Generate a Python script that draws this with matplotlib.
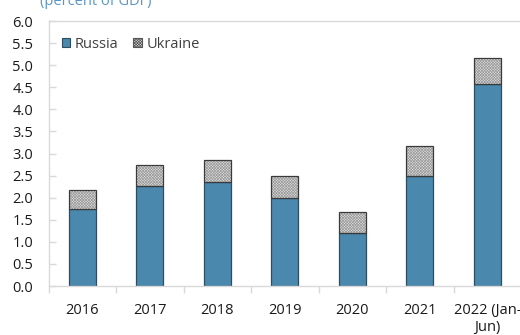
import numpy as np
import matplotlib
matplotlib.use("Agg")
import matplotlib.pyplot as plt
from matplotlib.patches import Patch

plt.rcParams['font.family'] = ['Open Sans', 'DejaVu Sans']
plt.rcParams['hatch.linewidth'] = 0.5

years = ["2016", "2017", "2018", "2019", "2020", "2021", "2022 (Jan-\nJun)"]
russia = [1.74, 2.27, 2.36, 1.99, 1.20, 2.48, 4.58]
ukraine = [0.43, 0.47, 0.50, 0.51, 0.48, 0.70, 0.59]
y_ticks = [0.0, 0.5, 1.0, 1.5, 2.0, 2.5, 3.0, 3.5, 4.0, 4.5, 5.0, 5.5, 6.0]

fig = plt.figure(figsize=(5.2, 3.35), dpi=100)
ax = fig.add_axes([48.5 / 520, 1 - 286 / 335, 1 - 48.5 / 520 + 0.002, (286 - 21) / 335])

x = np.arange(len(years))
w = 0.4
blue, blue_edge = '#4a88ae', '#2e4d5e'
hatch_face, hatch_line, hatch_edge = '#e2e2e2', '#9a9a9a', '#3a3a3a'
pattern = 'xxxxxxxxxxxx'

ax.bar(x, russia, w, color=blue, edgecolor=blue_edge, linewidth=0.9)
# fine grey pattern, then a dark outline on top
ax.bar(x, ukraine, w, bottom=russia, color=hatch_face, edgecolor=hatch_line,
       linewidth=0, hatch=pattern)
ax.bar(x, ukraine, w, bottom=russia, facecolor='none', edgecolor=hatch_edge, linewidth=0.9)

ax.set_xlim(-0.5, len(years) - 0.5)
ax.set_ylim(0, 6)
ax.set_yticks(y_ticks)
ax.set_yticklabels([f"{v:.1f}" for v in y_ticks])
ax.set_xticks(x)
ax.set_xticklabels(years, linespacing=1.2)
ax.set_xticks(np.arange(len(years) + 1) - 0.5, minor=True)

grey = '#d9d9d9'
for s in ['left', 'bottom', 'top', 'right']:
    ax.spines[s].set_color(grey)
    ax.spines[s].set_linewidth(1.0)

ax.tick_params(axis='x', which='major', length=0, pad=12, labelsize=10.5, labelcolor='#1a1a1a')
ax.tick_params(axis='x', which='minor', length=5, width=1, color=grey, direction='out')
ax.tick_params(axis='y', which='major', direction='in', length=5, width=1, color=grey,
               pad=11, labelsize=10.5, labelcolor='#1a1a1a')

handles = [Patch(facecolor=blue, edgecolor=blue_edge, linewidth=0.8, label='Russia'),
           Patch(facecolor=hatch_face, edgecolor='#555555', linewidth=0.8,
                 hatch=pattern, label='Ukraine')]
leg = ax.legend(handles=handles, loc='upper left', ncol=2, frameon=False,
                bbox_to_anchor=(0.0, 0.99), handlelength=0.6, handleheight=0.6,
                handletextpad=0.3, columnspacing=1.0, fontsize=10.5, borderaxespad=0.5)
for t in leg.get_texts():
    t.set_color('#404040')

fig.text(40 / 520, 1 - 5 / 335, "(percent of GDF)", color='#5a95c8', fontsize=10.5,
         ha='left', va='baseline')

fig.savefig("out.png", dpi=100)
